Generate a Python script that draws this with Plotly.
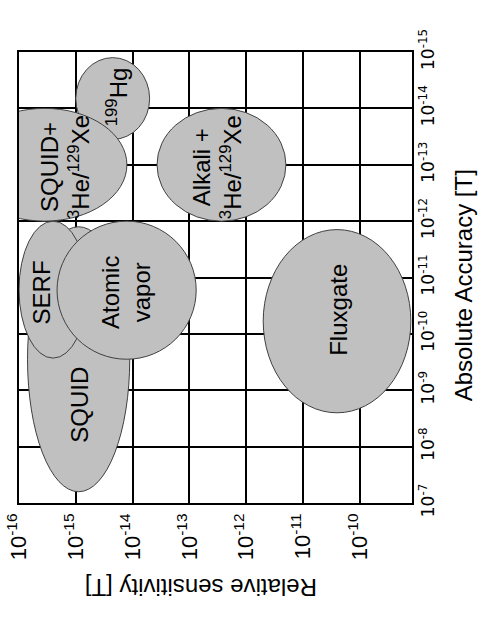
import plotly.graph_objects as go

# ---- data (log10 of field values in tesla) ----
names = ["SQUID", "SERF", "Atomic<br>vapor", "Fluxgate", "<sup>199</sup>Hg",
         "SQUID+<br><sup>3</sup>He/<sup>129</sup>Xe", "Alkali +<br><sup>3</sup>He/<sup>129</sup>Xe"]
sens_lo = [-15.85, -16.0, -15.33, -11.70, -15.00, -17.00, -13.57]
sens_hi = [-14.05, -14.80, -12.88, -9.10, -13.70, -14.10, -11.30]
acc_lo = [-11.90, -12.00, -12.00, -11.85, -14.90, -14.00, -14.00]
acc_hi = [-7.20, -9.57, -9.55, -8.60, -13.45, -12.00, -12.00]

sens_ticks = [-16, -15, -14, -13, -12, -11, -10]
acc_ticks = [-15, -14, -13, -12, -11, -10, -9, -8, -7]
sens_ticktext = ["10<sup>%d</sup>" % v for v in sens_ticks]
acc_ticktext = ["10<sup>%d</sup>" % v for v in acc_ticks]

# label positions inside the bubbles (layout only)
label_pos = [(-14.93, -8.74), (-15.60, -10.73), (-14.12, -10.74), (-10.38, -10.43),
             (-14.27, -14.20), (-15.19, -12.96), (-12.51, -12.96)]

FONT = "Liberation Sans, Arial, sans-serif"

fig = go.Figure()
fig.add_trace(go.Scatter(
    x=[(a + b) / 2 for a, b in zip(sens_lo, sens_hi)],
    y=[(a + b) / 2 for a, b in zip(acc_lo, acc_hi)],
    mode="markers", marker=dict(opacity=0), hoverinfo="skip", showlegend=False))

for i in range(len(names)):
    fig.add_shape(type="circle", xref="x", yref="y",
                  x0=sens_lo[i], x1=sens_hi[i], y0=acc_lo[i], y1=acc_hi[i],
                  fillcolor="#c0c0c0", line=dict(color="#404040", width=1),
                  layer="above")
    lx, ly = label_pos[i]
    fig.add_annotation(x=lx, y=ly, xref="x", yref="y", text=names[i],
                       showarrow=False, textangle=-90,
                       xanchor="center", yanchor="middle",
                       font=dict(family=FONT, size=24, color="black"))

fig.add_annotation(x=0.463, y=-0.186, xref="paper", yref="paper",
                   xanchor="center", yanchor="middle",
                   text="Relative sensitivity [T]", showarrow=False, textangle=180,
                   font=dict(family=FONT, size=24, color="black"))
fig.add_annotation(x=1.13, y=0.483, xref="paper", yref="paper",
                   xanchor="center", yanchor="middle",
                   text="Absolute Accuracy [T]", showarrow=False, textangle=-90,
                   font=dict(family=FONT, size=24, color="black"))

fig.update_layout(
    width=485, height=627,
    margin=dict(l=19, r=73, t=52, b=124, autoexpand=False),
    paper_bgcolor="white", plot_bgcolor="white",
    showlegend=False,
    xaxis=dict(range=[-16, -9.08], tickmode="array", tickvals=sens_ticks,
               ticktext=sens_ticktext, tickangle=-90, ticks="", automargin=False,
               ticklabeloverflow="allow",
               showgrid=True, gridcolor="black", gridwidth=1.5,
               showline=True, mirror=True, linecolor="black", linewidth=1.5,
               zeroline=False, tickfont=dict(family=FONT, size=22, color="black")),
    yaxis=dict(range=[-7, -15], side="right", tickmode="array", tickvals=acc_ticks,
               ticktext=acc_ticktext, tickangle=-90, ticks="", automargin=False,
               ticklabeloverflow="allow",
               showgrid=True, gridcolor="black", gridwidth=1.5,
               showline=True, mirror=True, linecolor="black", linewidth=1.5,
               zeroline=False,
               tickfont=dict(family="DejaVu Sans, sans-serif", size=17, color="black")),
)

fig.write_html("out.html", config={"displayModeBar": False},
               post_script="document.body.style.margin='0';")
